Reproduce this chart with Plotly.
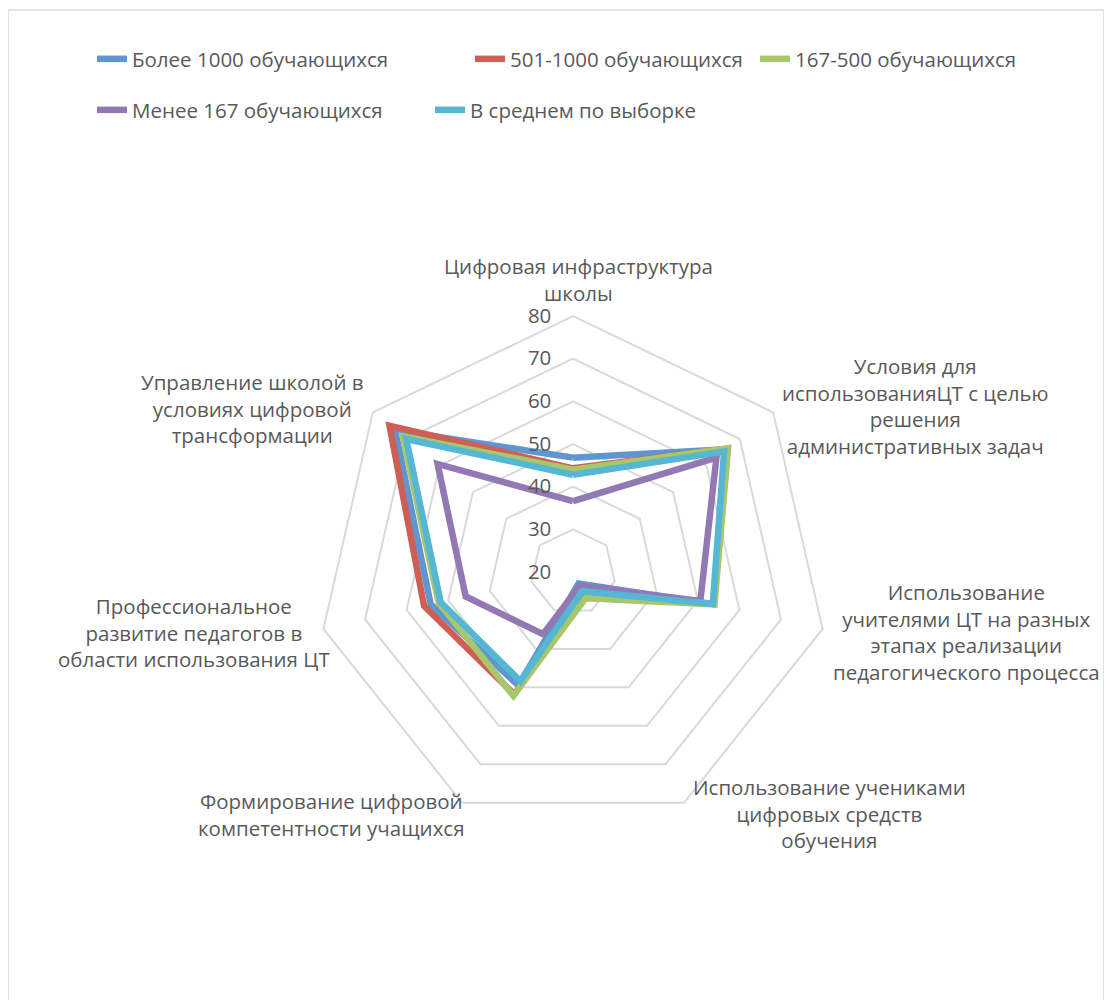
import plotly.graph_objects as go

# categories (axis order, clockwise from top)
categories = [
    "Цифровая инфраструктура школы",
    "Условия для использованияЦТ с целью решения административных задач",
    "Использование учителями ЦТ на разных этапах реализации педагогического процесса",
    "Использование учениками цифровых средств обучения",
    "Формирование цифровой компетентности учащихся",
    "Профессиональное развитие педагогов в области использования ЦТ",
    "Управление школой в условиях цифровой трансформации",
]
category_labels = [
    "Цифровая инфраструктура<br>школы",
    "Условия для<br>использованияЦТ с целью<br>решения<br>административных задач",
    "Использование<br>учителями ЦТ на разных<br>этапах реализации<br>педагогического процесса",
    "Использование учениками<br>цифровых средств<br>обучения",
    "Формирование цифровой<br>компетентности учащихся",
    "Профессиональное<br>развитие педагогов в<br>области использования ЦТ",
    "Управление школой в<br>условиях цифровой<br>трансформации",
]

series_names = [
    "Более 1000 обучающихся",
    "501-1000 обучающихся",
    "167-500 обучающихся",
    "Менее 167 обучающихся",
    "В среднем по выборке",
]
over_1000 = [46.8, 66.2, 53.8, 23.0, 49.5, 54.2, 73.3]
from_501_to_1000 = [44.3, 66.3, 53.8, 25.8, 51.8, 55.8, 75.0]
from_167_to_500 = [44.0, 66.5, 54.0, 26.8, 52.2, 52.3, 71.0]
under_167 = [36.6, 63.0, 50.6, 23.6, 36.2, 45.8, 60.6]
sample_avg = [42.8, 65.3, 53.6, 25.0, 48.4, 51.8, 70.0]
series_values = [over_1000, from_501_to_1000, from_167_to_500, under_167, sample_avg]

radial_ticks = [20, 30, 40, 50, 60, 70, 80]

colors = ["#6096D0", "#CD5F55", "#A8C66C", "#9279B3", "#55B7D3"]
TEXT = "#595959"
GRID = "#D9D9D9"
FONT = "Open Sans"
FS = 20.5

# the page body has an 8px margin, so the figure is 8px smaller than the window
OFF = 8
W, H = 1112 - OFF, 1000 - OFF

# layout in window pixels, as measured on the reference
cx, cy, rad = 573, 572, 256
label_pos = [(578, 279), (915, 406), (966, 632), (829, 813),
             (331, 814), (194, 632), (252, 408)]
legend_pos = [(92, 59), (470, 59), (755, 59), (92, 110), (430, 110)]


def px(x):
    return (x - OFF) / W


def py(y):
    return 1 - (y - OFF) / H


fig = go.Figure()
for i, (name, vals) in enumerate(zip(series_names, series_values)):
    fig.add_trace(go.Scatterpolar(
        r=vals + vals[:1], theta=categories + categories[:1],
        mode="lines", name=name,
        line=dict(color=colors[i], width=6.5),
        legend="legend" if i == 0 else f"legend{i + 1}",
    ))

legends = {}
for i, (lx, ly) in enumerate(legend_pos):
    key = "legend" if i == 0 else f"legend{i + 1}"
    legends[key] = dict(
        x=px(lx), y=py(ly), xanchor="left", yanchor="middle",
        orientation="h", bgcolor="rgba(0,0,0,0)",
        font=dict(family=FONT, size=FS, color=TEXT),
    )

annotations = [
    dict(text=lab, x=px(lx), y=py(ly), xref="paper", yref="paper",
         xanchor="center", yanchor="middle", align="center", showarrow=False,
         font=dict(family=FONT, size=FS, color=TEXT))
    for lab, (lx, ly) in zip(category_labels, label_pos)
]

fig.update_layout(
    width=W, height=H,
    margin=dict(l=0, r=0, t=0, b=0),
    paper_bgcolor="white",
    font=dict(family=FONT, size=FS, color=TEXT),
    showlegend=True,
    annotations=annotations,
    shapes=[dict(type="rect", xref="paper", yref="paper",
                 x0=px(8), x1=px(1104), y0=py(1012), y1=py(10),
                 line=dict(color=GRID, width=1.5))],
    polar=dict(
        domain=dict(x=[px(cx - rad), px(cx + rad)], y=[py(cy + rad), py(cy - rad)]),
        bgcolor="white",
        gridshape="linear",
        angularaxis=dict(
            direction="clockwise", rotation=90,
            showgrid=False, showline=True, linecolor=GRID, linewidth=2,
            ticks="", showticklabels=False,
        ),
        radialaxis=dict(
            range=[20, 80], tickvals=radial_ticks, angle=90, tickangle=90,
            side="counterclockwise", showline=False,
            ticks="outside", ticklen=14, tickcolor="rgba(0,0,0,0)",
            gridcolor=GRID, gridwidth=2,
            tickfont=dict(family=FONT, size=FS, color=TEXT),
        ),
    ),
    **legends,
)

fig.write_html("out.html")
